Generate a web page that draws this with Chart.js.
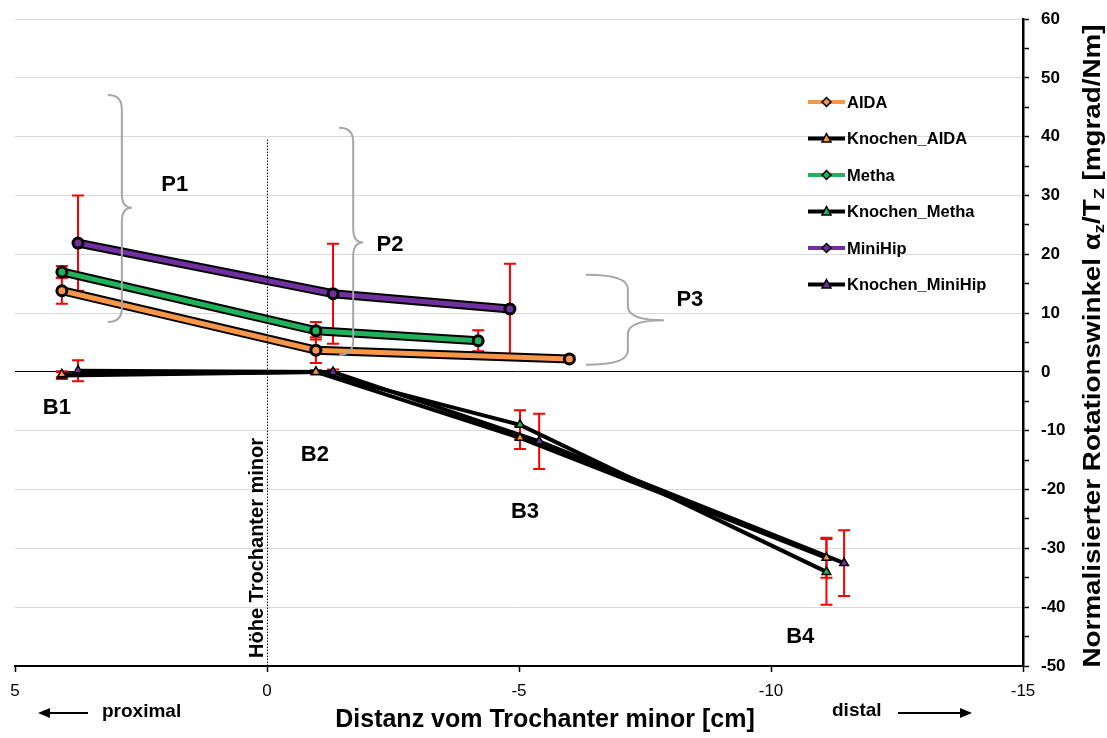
<!DOCTYPE html>
<html>
<head>
<meta charset="utf-8">
<script src="https://cdn.jsdelivr.net/npm/chart.js@4.4.1/dist/chart.umd.min.js"></script>
<style>
  html, body { margin: 0; padding: 0; background: #fff; }
  #wrap { width: 1107px; height: 738px; }
</style>
</head>
<body>
<div id="wrap"><canvas id="chart" width="1107" height="738"></canvas></div>
<script>
// Daten
const xAida = [4.07, -0.97, -6.0];
const yAida = [13.8, 3.7, 2.2];
const eAida = [2.2, 2.2, 0.4];

const xMetha = [4.07, -0.97, -4.19];
const yMetha = [17.0, 7.0, 5.3];
const eMetha = [1.0, 1.5, 1.8];

const xMini = [3.75, -1.31, -4.82];
const yMini = [21.9, 13.3, 10.7];
const eMini = [8.1, 8.5, 7.7];

const xKnAida = [4.07, -0.97, -5.02, -11.1];
const yKnAida = [-0.4, 0.0, -11.2, -31.6];
const eKnAida = [0.5, 0.3, 1.9, 3.4];

const xKnMetha = [4.07, -0.97, -5.02, -11.1];
const yKnMetha = [-0.6, 0.0, -9.0, -34.0];
const eKnMetha = [0.6, 0.3, 2.5, 5.6];

const xKnMini = [3.75, -1.31, -5.4, -11.45];
const yKnMini = [0.2, 0.0, -11.8, -32.5];
const eKnMini = [1.8, 0.4, 4.7, 5.6];

const xTicks = [5, 0, -5, -10, -15];
const yTicks = [60, 50, 40, 30, 20, 10, 0, -10, -20, -30, -40, -50];

const ORANGE = '#f79646';
const GREEN = '#1fb25a';
const PURPLE = '#7030a0';
const FONT = 'Arial, "Liberation Sans", sans-serif';

function pts(xs, ys) {
  return xs.map((x, i) => ({ x: x, y: ys[i] }));
}

function mainSet(label, xs, ys, errs, color) {
  return {
    label: label,
    data: pts(xs, ys),
    errors: errs,
    outline: true,
    borderColor: color,
    backgroundColor: color,
    borderWidth: 5,
    pointStyle: 'circle',
    pointRadius: 5,
    pointBorderWidth: 3,
    pointBorderColor: '#000',
    pointBackgroundColor: color,
    legendMarker: 'diamond',
    legendLine: color
  };
}

function boneSet(label, xs, ys, errs, color) {
  return {
    label: label,
    data: pts(xs, ys),
    errors: errs,
    borderColor: '#000',
    backgroundColor: color,
    borderWidth: 4,
    pointStyle: 'triangle',
    pointRadius: 5,
    pointBorderWidth: 1.5,
    pointBorderColor: '#000',
    pointBackgroundColor: color,
    legendMarker: 'triangle',
    legendLine: '#000',
    legendFill: color
  };
}

// Text auf eine Ziellänge bringen (schmale Schrift nachbilden)
function fitText(ctx, parts, target) {
  let total = 0;
  parts.forEach(p => { ctx.font = p[1]; total += ctx.measureText(p[0]).width; });
  const sx = target / total;
  ctx.scale(sx, 1);
  let cur = -total / 2;
  parts.forEach(p => {
    ctx.font = p[1];
    ctx.fillText(p[0], cur, p[2]);
    cur += ctx.measureText(p[0]).width;
  });
}

// Fehlerbalken, schwarze Kontur, Klammern und Beschriftungen
const extras = {
  id: 'extras',
  beforeDatasetsDraw(chart) {
    const ctx = chart.ctx;
    const xs = chart.scales.x, ys = chart.scales.y;
    ctx.save();
    ctx.strokeStyle = '#ff0000';
    ctx.lineWidth = 2;
    chart.data.datasets.forEach(ds => {
      ds.data.forEach((p, i) => {
        const e = ds.errors[i];
        const px = xs.getPixelForValue(p.x);
        const y1 = ys.getPixelForValue(p.y + e);
        const y2 = ys.getPixelForValue(p.y - e);
        ctx.beginPath();
        ctx.moveTo(px, y1); ctx.lineTo(px, y2);
        ctx.moveTo(px - 6, y1); ctx.lineTo(px + 6, y1);
        ctx.moveTo(px - 6, y2); ctx.lineTo(px + 6, y2);
        ctx.stroke();
      });
    });
    ctx.restore();
  },
  beforeDatasetDraw(chart, args) {
    const ds = chart.data.datasets[args.index];
    if (!ds.outline) return;
    const ctx = chart.ctx;
    ctx.save();
    ctx.strokeStyle = '#000';
    ctx.lineWidth = 9;
    ctx.lineJoin = 'round';
    ctx.lineCap = 'round';
    ctx.beginPath();
    args.meta.data.forEach((el, i) => {
      if (i === 0) ctx.moveTo(el.x, el.y); else ctx.lineTo(el.x, el.y);
    });
    ctx.stroke();
    ctx.restore();
  },
  afterDraw(chart) {
    const ctx = chart.ctx;
    const xs = chart.scales.x, ys = chart.scales.y;
    const X = v => xs.getPixelForValue(v);
    const Y = v => ys.getPixelForValue(v);
    const area = chart.chartArea;

    ctx.save();
    // gepunktete Linie bei 0
    ctx.strokeStyle = '#000';
    ctx.lineWidth = 1;
    ctx.setLineDash([1.5, 1.5]);
    ctx.beginPath();
    ctx.moveTo(X(0) + 0.5, Y(39.5));
    ctx.lineTo(X(0) + 0.5, area.bottom);
    ctx.stroke();
    ctx.setLineDash([]);

    // Höhe Trochanter minor
    ctx.save();
    ctx.translate(X(0) - 10, area.bottom - 8);
    ctx.rotate(-Math.PI / 2);
    ctx.font = 'bold 20px ' + FONT;
    ctx.fillStyle = '#000';
    ctx.textAlign = 'left';
    ctx.textBaseline = 'middle';
    ctx.fillText('Höhe Trochanter minor', 0, 0);
    ctx.restore();

    // geschweifte Klammern
    function brace(x, yTop, yBot, hook, tip, yMid) {
      const r = Math.min(14, (yBot - yTop) / 6);
      ctx.beginPath();
      ctx.moveTo(x - hook, yTop);
      ctx.quadraticCurveTo(x, yTop, x, yTop + r);
      ctx.lineTo(x, yMid - r);
      ctx.quadraticCurveTo(x, yMid, x + tip, yMid);
      ctx.quadraticCurveTo(x, yMid, x, yMid + r);
      ctx.lineTo(x, yBot - r);
      ctx.quadraticCurveTo(x, yBot, x - hook, yBot);
      ctx.stroke();
    }
    ctx.strokeStyle = '#a6a6a6';
    ctx.lineWidth = 2;
    brace(X(2.88), Y(47.1), Y(8.5), 14, 10, Y(27.9));
    brace(X(-1.71), Y(41.5), Y(2.9), 14, 10, Y(22.0));
    brace(X(-7.16), Y(16.5), Y(1.2), 42, 36, Y(8.8));

    // P- und B-Beschriftungen
    ctx.fillStyle = '#000';
    ctx.font = 'bold 22px ' + FONT;
    ctx.textAlign = 'center';
    ctx.textBaseline = 'middle';
    ctx.fillText('P1', X(1.83), Y(31.8));
    ctx.fillText('P2', X(-2.44), Y(21.6));
    ctx.fillText('P3', X(-8.39), Y(12.2));
    ctx.fillText('B1', X(4.17), Y(-6.1));
    ctx.fillText('B2', X(-0.95), Y(-14.1));
    ctx.fillText('B3', X(-5.12), Y(-23.8));
    ctx.fillText('B4', X(-10.58), Y(-45.1));

    // Legende
    const lx = 808, ly0 = 102, step = 36.5;
    ctx.font = 'bold 16.5px ' + FONT;
    ctx.textAlign = 'left';
    chart.data.datasets.forEach((ds, i) => {
      const y = ly0 + i * step;
      ctx.strokeStyle = ds.legendLine;
      ctx.lineWidth = 4;
      ctx.beginPath();
      ctx.moveTo(lx, y); ctx.lineTo(lx + 37, y);
      ctx.stroke();
      const cx = lx + 18.5;
      ctx.lineWidth = 1.5;
      ctx.strokeStyle = '#000';
      ctx.beginPath();
      if (ds.legendMarker === 'diamond') {
        ctx.fillStyle = ds.legendLine;
        ctx.moveTo(cx, y - 4.5); ctx.lineTo(cx + 4.5, y);
        ctx.lineTo(cx, y + 4.5); ctx.lineTo(cx - 4.5, y);
      } else {
        ctx.fillStyle = ds.legendFill;
        ctx.moveTo(cx, y - 5); ctx.lineTo(cx + 4.5, y + 3.5);
        ctx.lineTo(cx - 4.5, y + 3.5);
      }
      ctx.closePath();
      ctx.fill();
      ctx.stroke();
      ctx.fillStyle = '#000';
      ctx.fillText(ds.label, lx + 39, y + 1);
    });

    // Y-Achsentitel mit Indizes
    ctx.save();
    ctx.translate(1094, 346);
    ctx.rotate(-Math.PI / 2);
    ctx.textAlign = 'left';
    ctx.textBaseline = 'middle';
    const big = 'bold 23px ' + FONT;
    const small = 'bold 15px ' + FONT;
    fitText(ctx, [
      ['Normalisierter Rotationswinkel α', big, 0],
      ['z', small, 6],
      ['/T', big, 0],
      ['Z', small, 6],
      [' [mgrad/Nm]', big, 0]
    ], 643);
    ctx.restore();

    // X-Achsentitel, Pfeile
    ctx.fillStyle = '#000';
    ctx.font = 'bold 25px ' + FONT;
    ctx.textAlign = 'center';
    ctx.textBaseline = 'middle';
    ctx.fillText('Distanz vom Trochanter minor [cm]', 545, 720);

    ctx.font = 'bold 19px ' + FONT;
    ctx.textAlign = 'left';
    ctx.fillText('proximal', 102, 712);
    ctx.fillText('distal', 832, 711);

    function arrow(x1, x2, y) {
      const dir = Math.sign(x2 - x1);
      ctx.strokeStyle = '#000';
      ctx.lineWidth = 2;
      ctx.beginPath();
      ctx.moveTo(x1, y); ctx.lineTo(x2 - dir * 8, y);
      ctx.stroke();
      ctx.beginPath();
      ctx.moveTo(x2, y);
      ctx.lineTo(x2 - dir * 12, y - 5);
      ctx.lineTo(x2 - dir * 12, y + 5);
      ctx.closePath();
      ctx.fill();
    }
    arrow(88, 38, 713);
    arrow(898, 972, 713);
    ctx.restore();
  }
};

const datasets = [
  mainSet('AIDA', xAida, yAida, eAida, ORANGE),
  boneSet('Knochen_AIDA', xKnAida, yKnAida, eKnAida, ORANGE),
  mainSet('Metha', xMetha, yMetha, eMetha, GREEN),
  boneSet('Knochen_Metha', xKnMetha, yKnMetha, eKnMetha, GREEN),
  mainSet('MiniHip', xMini, yMini, eMini, PURPLE),
  boneSet('Knochen_MiniHip', xKnMini, yKnMini, eKnMini, PURPLE)
];
// Knochen-Linien unten, farbige Linien oben
datasets.forEach(ds => { ds.order = ds.outline ? 0 : 1; });

new Chart(document.getElementById('chart').getContext('2d'), {
  type: 'line',
  data: { datasets: datasets },
  plugins: [extras],
  options: {
    responsive: false,
    animation: false,
    layout: { padding: { left: 15, top: 19, right: 0, bottom: 0 } },
    plugins: { legend: { display: false }, tooltip: { enabled: false } },
    scales: {
      x: {
        type: 'linear',
        reverse: true,
        min: Math.min(...xTicks),
        max: Math.max(...xTicks),
        afterBuildTicks: s => { s.ticks = xTicks.map(v => ({ value: v })); },
        afterFit: s => { s.height = 72; s.paddingLeft = 0; s.paddingRight = 0; },
        grid: { drawOnChartArea: false, drawTicks: true, tickLength: 6, tickColor: '#000', tickWidth: 1.5 },
        border: { color: '#000', width: 2 },
        ticks: {
          color: '#000',
          padding: 9,
          maxRotation: 0,
          font: { family: FONT, size: 17 }
        }
      },
      y: {
        type: 'linear',
        position: 'right',
        min: Math.min(...yTicks),
        max: Math.max(...yTicks),
        afterBuildTicks: s => {
          const t = [];
          for (let i = 0; i < yTicks.length; i++) {
            t.push({ value: yTicks[i] });
            if (i < yTicks.length - 1) t.push({ value: yTicks[i] - 5 });
          }
          s.ticks = t.sort((a, b) => a.value - b.value);
        },
        afterFit: s => { s.width = 84; s.paddingTop = 0; s.paddingBottom = 0; },
        grid: {
          color: c => c.tick && c.tick.value === 0 ? '#000' : (c.tick && c.tick.value % 10 === 0 ? '#d9d9d9' : 'rgba(0,0,0,0)'),
          tickColor: '#000',
          tickLength: 6,
          tickWidth: 1.5,
          lineWidth: 1
        },
        border: { color: '#000', width: 2.5 },
        ticks: {
          color: '#000',
          padding: 12,
          autoSkip: false,
          callback: v => (v % 10 === 0 ? v : ''),
          font: { family: FONT, size: 17, weight: 'bold' }
        }
      }
    }
  }
});
</script>
</body>
</html>
